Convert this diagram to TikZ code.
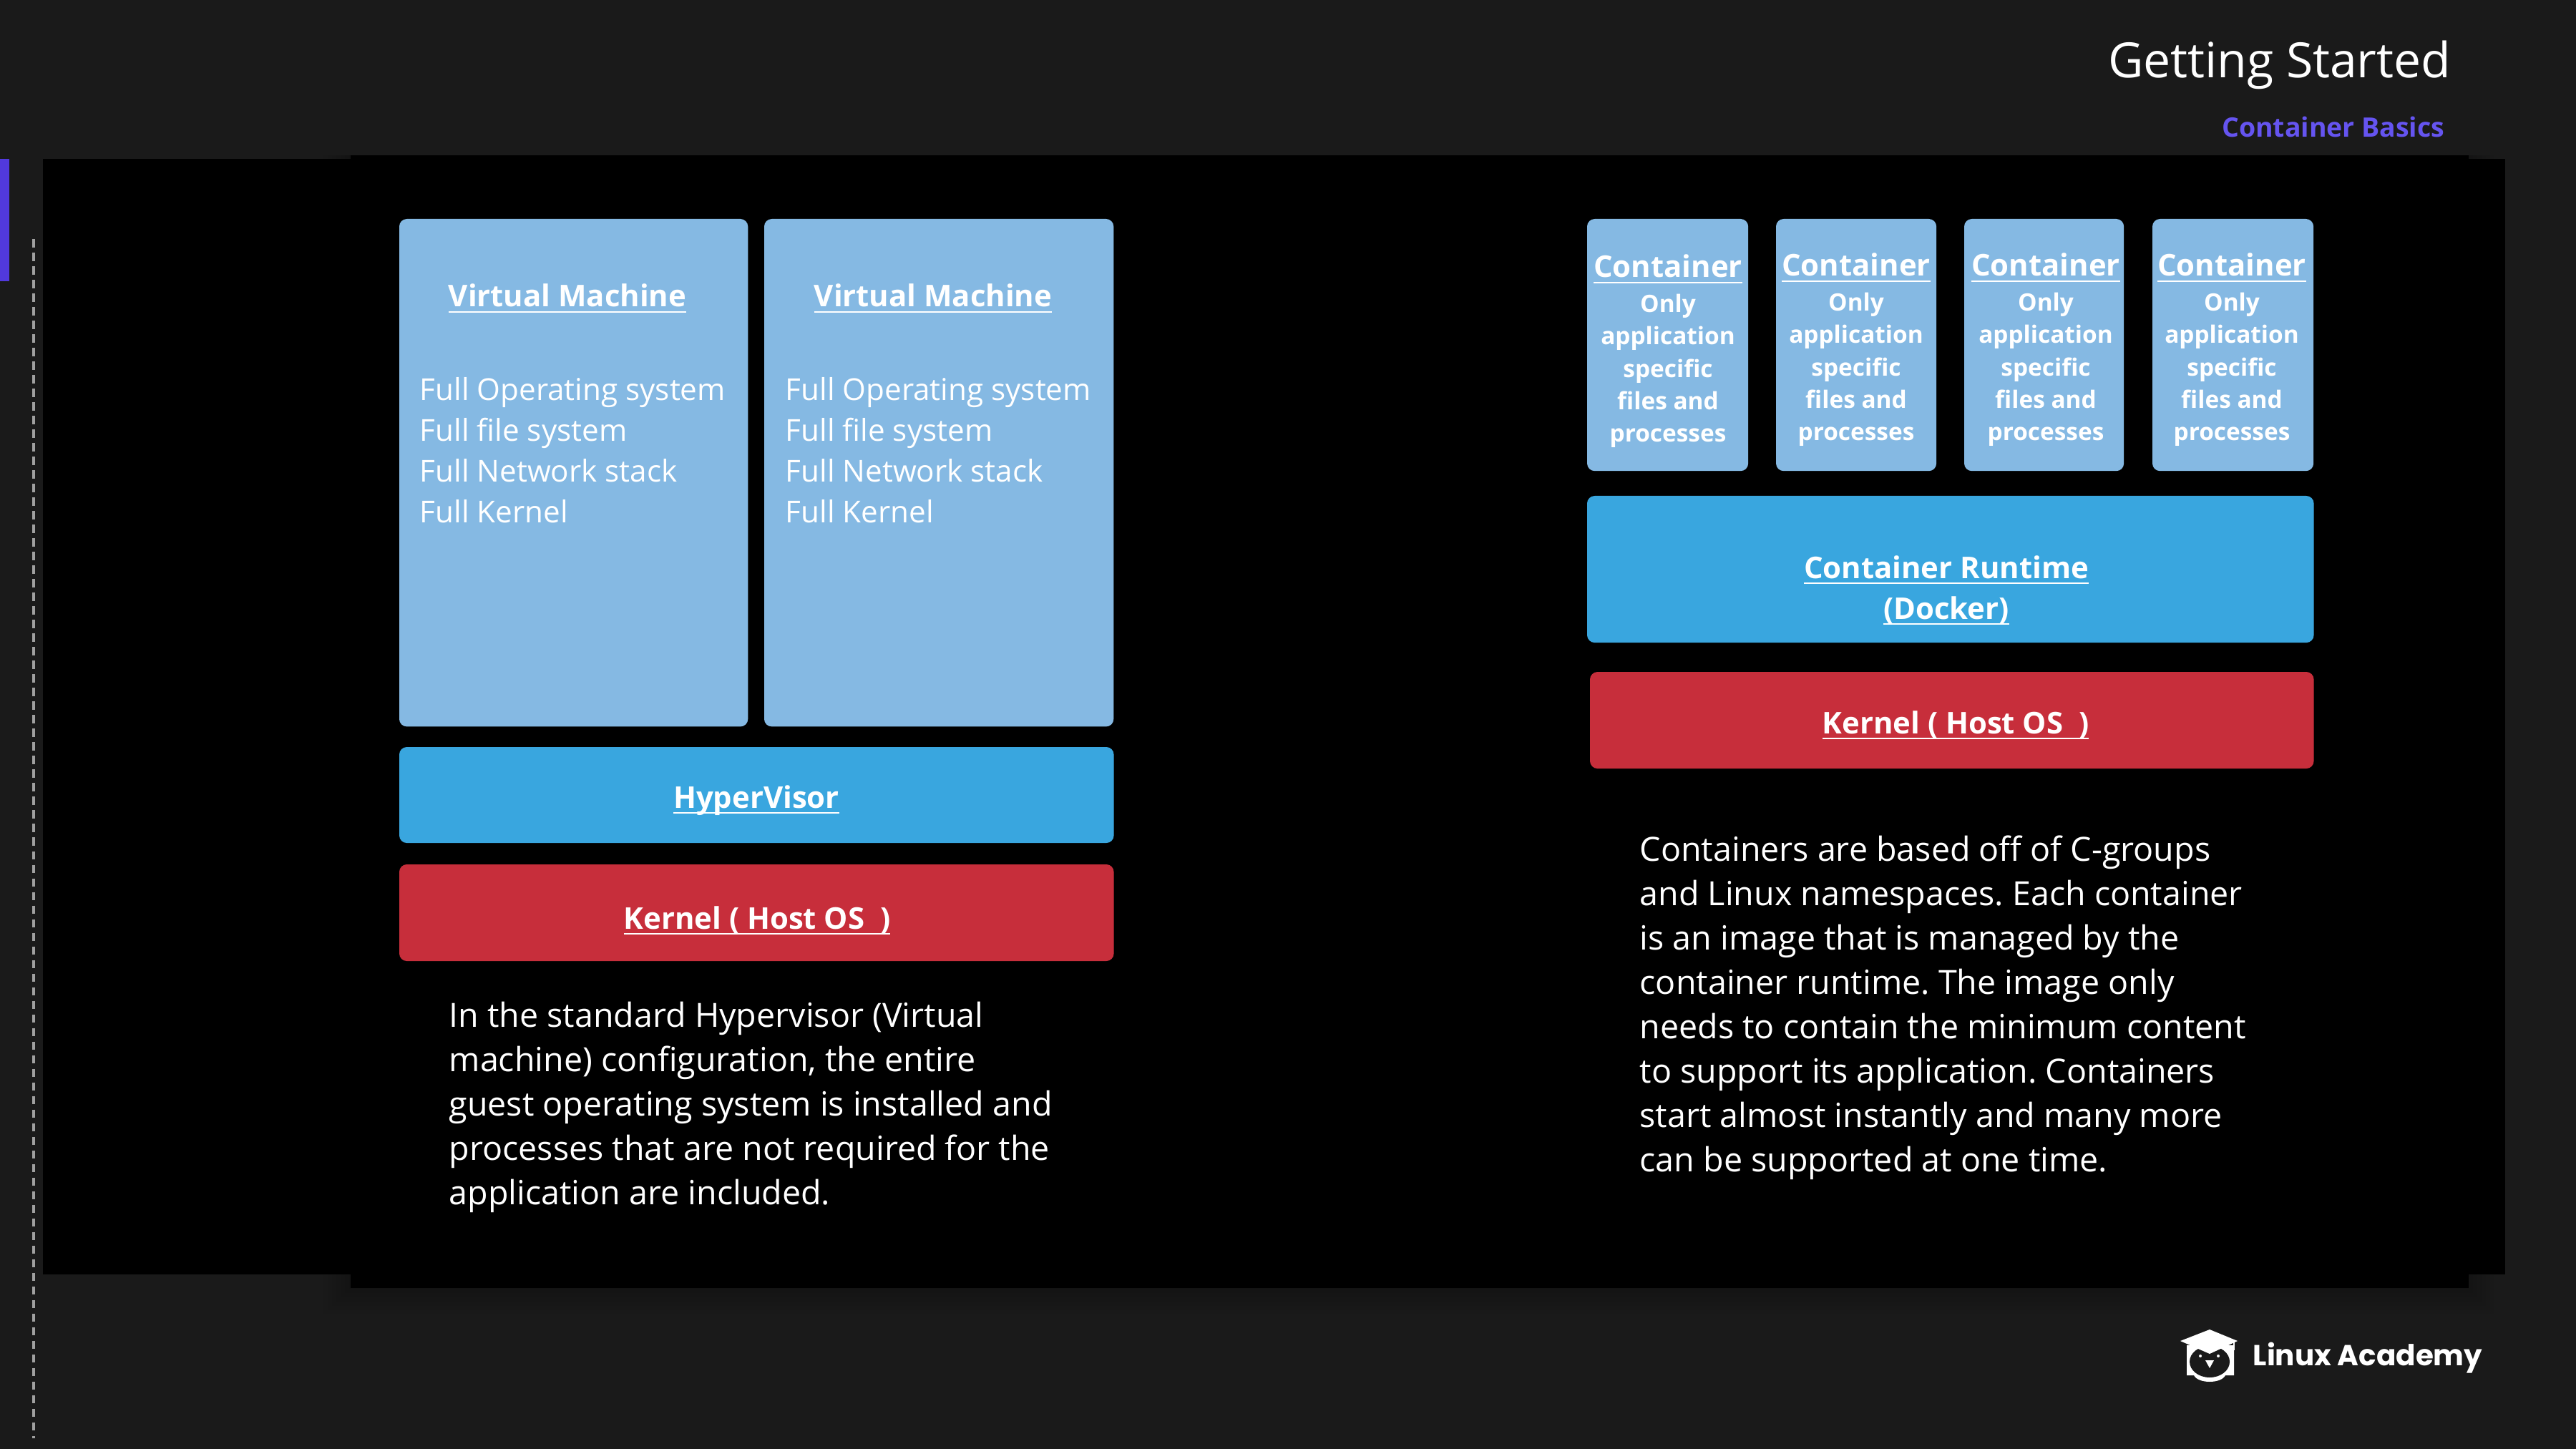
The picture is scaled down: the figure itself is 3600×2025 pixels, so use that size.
\documentclass[tikz,border=0pt]{standalone}
\usepackage{xcolor}
\usepackage{fontspec}
\setmainfont{Open Sans}
\newfontfamily\logofont{Poppins}
\newsavebox{\ulinebox}
\newcommand{\uline}[1]{\sbox{\ulinebox}{#1}\rlap{\rule[-2.4pt]{\wd\ulinebox}{0.7pt}}\usebox{\ulinebox}}
\definecolor{slidebg}{HTML}{1A1A1A}
\definecolor{barpurple}{HTML}{5139DD}
\definecolor{subpurple}{HTML}{6554F0}
\definecolor{guestblue}{HTML}{85B9E3}
\definecolor{layerblue}{HTML}{39A6DF}
\definecolor{kernelred}{HTML}{C72E3B}
\definecolor{dashgray}{HTML}{A0A0A0}
\tikzset{
  panel/.style={draw=none, fill=black, inner sep=0pt, outer sep=0pt, anchor=north west},
  guestbox/.style={fill=guestblue, rounded corners=3pt, inner sep=0pt, outer sep=0pt, anchor=north west},
  layerbox/.style={fill=layerblue, rounded corners=3pt, inner sep=0pt, outer sep=0pt, anchor=north west},
  kernelbox/.style={fill=kernelred, rounded corners=3pt, inner sep=0pt, outer sep=0pt, anchor=north west},
  boxhead/.style={text=white, inner sep=0pt, anchor=base, font=\fontsize{11.9pt}{14pt}\selectfont\bfseries},
  boxlist/.style={text=white, inner sep=0pt, anchor=base west, align=left, font=\fontsize{12pt}{16.2pt}\selectfont},
  cbody/.style={text=white, inner sep=0pt, anchor=base, font=\fontsize{9.5pt}{11pt}\selectfont\bfseries},
  notetext/.style={text=white, inner sep=0pt, anchor=base west, align=left, font=\fontsize{13.25pt}{17.65pt}\selectfont\frenchspacing},
}
\begin{document}
\begin{tikzpicture}[x=0.01cm, y=-0.01cm]
\useasboundingbox (0,0) rectangle (3600,2025);
\fill[slidebg] (0,0) rectangle (3600,2025);
\foreach \s in {38,32,...,2}
  \fill[black, opacity=0.02] (490-\s,217) rectangle (3448+\s,1799+\s);
\node[panel, minimum width=34.39cm, minimum height=15.58cm] (back) at (60,222) {};
\node[panel, minimum width=29.58cm, minimum height=15.82cm] (front) at (490,217) {};
\node[fill=barpurple, inner sep=0pt, outer sep=0pt, anchor=north west, minimum width=0.13cm, minimum height=1.71cm] (bar) at (0,222) {};
\coordinate (dashtop) at (47,334);
\coordinate (dashend) at (47,2010);
\draw[dashgray, line width=0.04cm, dash pattern=on 0.115cm off 0.075cm] (dashtop) -- (dashend);
\node[text=white, inner sep=0pt, anchor=base east, font=\fontsize{19.3pt}{23pt}\selectfont] (title) at (3426,109) {Getting Started};
\node[text=subpurple, inner sep=0pt, anchor=base east, font=\fontsize{10.65pt}{13pt}\selectfont\bfseries] (subtitle) at (3417,192) {Container Basics};

% hypervisor side
\node[guestbox, minimum width=4.87cm, minimum height=7.09cm] (vma) at (558,306) {};
\node[guestbox, minimum width=4.88cm, minimum height=7.09cm] (vmb) at (1068,306) {};
\foreach \n/\cx/\lx in {a/793/586,b/1304/1097} {
  \node[boxhead] (vmhead\n) at (\cx,429) {\uline{Virtual Machine}};
  \node[boxlist, anchor=north west] (vmlist\n) at (\lx,527) {Full Operating system\\Full file system\\Full Network stack\\Full Kernel};
}
\node[layerbox, minimum width=9.98cm, minimum height=1.34cm] (hyper) at (558,1044) {};
\node[boxhead] (hyperlabel) at (1057,1129) {\uline{HyperVisor}};
\node[kernelbox, minimum width=9.98cm, minimum height=1.35cm] (kernela) at (558,1208) {};
\node[boxhead] (kernelalabel) at (1058,1298) {\uline{Kernel ( Host OS~~)}};
\node[notetext, anchor=north west] (notea) at (627,1399) {In the standard Hypervisor (Virtual\\machine) configuration, the entire\\guest operating system is installed and\\processes that are not required for the\\application are included.};

% container side
\foreach \n/\bx/\bw/\cx/\hy in {a/2218/2.25/2331/388,b/2482/2.24/2594/386,c/2745/2.23/2859/386,d/3008/2.25/3119/386} {
  \node[guestbox, minimum width=\bw cm, minimum height=3.52cm] (box\n) at (\bx,306) {};
  \node[boxhead] (chead\n) at (\cx,\hy) {\uline{Container}};
  \foreach \t [count=\i from 1] in {Only,application,specific,files and,processes}
    \node[cbody] (cbody\n\i) at (\cx,\hy+3+\i*45.4) {\t};
}
\node[layerbox, minimum width=10.15cm, minimum height=2.05cm] (runtime) at (2218,693) {};
\node[boxhead] (runtimelabel) at (2720,808) {\uline{Container Runtime}};
\node[boxhead] (dockerlabel) at (2720,865) {\uline{(Docker)}};
\node[kernelbox, minimum width=10.11cm, minimum height=1.35cm] (kernelb) at (2222,939) {};
\node[boxhead] (kernelblabel) at (2733,1025) {\uline{Kernel ( Host OS~~)}};
\node[notetext, anchor=north west] (noteb) at (2291,1167) {Containers are based off of C-groups\\and Linux namespaces. Each container\\is an image that is managed by the\\container runtime. The image only\\needs to contain the minimum content\\to support its application. Containers\\start almost instantly and many more\\can be supported at one time.};

% logo
\fill[white] (3056,1880) -- (3056,1922) -- (3066,1922) .. controls (3072,1934) and (3104,1934) .. (3110,1922) -- (3122,1922) -- (3122,1880) -- cycle;
\fill[slidebg] (3088,1903) ellipse (28 and 22);
\fill[white] (3088,1858) -- (3127,1874) -- (3088,1892) -- (3047,1874) -- cycle;
\fill[white] (3121,1874) rectangle (3123,1887);
\fill[white] (3075,1895) circle (2);
\fill[white] (3100,1895) circle (2);
\fill[white] (3082,1901) -- (3094,1901) -- (3088,1912) -- cycle;
\node[text=white, inner sep=0pt, anchor=base west, font=\logofont\bfseries\fontsize{11.5pt}{14pt}\selectfont] (logotext) at (3148,1908) {Linux Academy};
\end{tikzpicture}
\end{document}
